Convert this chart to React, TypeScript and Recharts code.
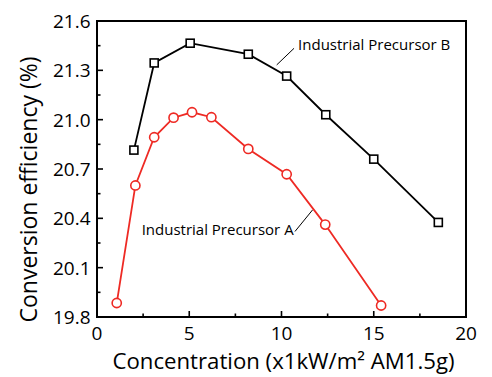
import React from 'react';
import { LineChart, Line, XAxis, YAxis, ReferenceLine, ReferenceDot, ReferenceArea } from 'recharts';

const xB = [2, 3.1, 5.05, 8.2, 10.28, 12.4, 15, 18.5];
const yB = [20.815, 21.345, 21.465, 21.398, 21.265, 21.03, 20.76, 20.375];
const xA = [1.07, 2.08, 3.1, 4.15, 5.15, 6.2, 8.2, 10.28, 12.37, 15.4];
const yA = [19.885, 20.6, 20.893, 21.012, 21.045, 21.015, 20.822, 20.668, 20.362, 19.87];

const xTicks = [0, 2.5, 5, 7.5, 10, 12.5, 15, 17.5, 20];
const xMajor = [0, 5, 10, 15, 20];
const xLabels = ['0', '5', '10', '15', '20'];
const yTicks = [19.8, 19.95, 20.1, 20.25, 20.4, 20.55, 20.7, 20.85, 21.0, 21.15, 21.3, 21.45, 21.6];
const yMajor = [19.8, 20.1, 20.4, 20.7, 21.0, 21.3, 21.6];
const yLabels = ['19.8', '20.1', '20.4', '20.7', '21.0', '21.3', '21.6'];

const seriesA = xA.map((x, i) => ({ x, y: yA[i] }));
const seriesB = xB.map((x, i) => ({ x, y: yB[i] }));

const FONT = '"Open Sans", "Noto Sans", sans-serif';
const RED = '#ee2a24';

const isIn = (arr: number[], v: number) => arr.findIndex((m) => Math.abs(m - v) < 1e-6);

const makeTick = (side: 'bottom' | 'top' | 'left' | 'right', majors: number[], labels: string[] | null) => (props: any) => {
  const { x, y, payload } = props;
  const v = payload.value;
  const idx = isIn(majors, v);
  const len = idx >= 0 ? 6 : 3.5;
  let line;
  if (side === 'bottom') line = <line x1={x} x2={x} y1={y} y2={y - len} stroke="#000" strokeWidth={1.6} />;
  else if (side === 'top') line = <line x1={x} x2={x} y1={y} y2={y + len} stroke="#000" strokeWidth={1.6} />;
  else if (side === 'left') line = <line x1={x} x2={x + len} y1={y} y2={y} stroke="#000" strokeWidth={1.6} />;
  else line = <line x1={x} x2={x - len} y1={y} y2={y} stroke="#000" strokeWidth={1.6} />;
  let label = null;
  if (labels && idx >= 0) {
    if (side === 'bottom')
      label = (
        <text x={x} y={y + 23} textAnchor="middle" fontSize={19} fontFamily={FONT} fill="#000">
          {labels[idx]}
        </text>
      );
    else if (side === 'left')
      label = (
        <text x={x - 6.5} y={y} dy="0.36em" textAnchor="end" fontSize={19} fontFamily={FONT} fill="#000">
          {labels[idx]}
        </text>
      );
  }
  return (
    <g>
      {line}
      {label}
    </g>
  );
};

const SquareDot = (props: any) => {
  const { cx, cy } = props;
  if (cx == null || cy == null) return null;
  return <rect x={cx - 4} y={cy - 4} width={8} height={8} fill="#fff" stroke="#000" strokeWidth={1.6} />;
};

const CircleDot = (props: any) => {
  const { cx, cy } = props;
  if (cx == null || cy == null) return null;
  return <circle cx={cx} cy={cy} r={4.6} fill="#fff" stroke={RED} strokeWidth={1.6} />;
};

const makeText = (txt: string) => (props: any) => {
  const vb = props.viewBox || {};
  return (
    <text x={vb.x} y={vb.y} textAnchor="start" fontSize={15} fontFamily={FONT} fill="#000">
      {txt}
    </text>
  );
};

const axisLine = { stroke: '#000', strokeWidth: 2 };

export default function App() {
  return (
    <LineChart width={484} height={369} margin={{ top: 13, right: 26, bottom: 0, left: 0 }}>
      <XAxis
        xAxisId="b"
        type="number"
        dataKey="x"
        domain={[0, 20]}
        ticks={xTicks}
        interval={0}
        tickSize={0}
        tickMargin={0}
        tickLine={false}
        axisLine={axisLine}
        height={60}
        tick={makeTick('bottom', xMajor, xLabels)}
        allowDataOverflow
        label={{
          content: (p: any) => {
            const vb = p.viewBox;
            return (
              <text x={vb.x + vb.width / 2 + 2} y={360.5} textAnchor="middle" fontSize={22.2} fontFamily={FONT} fill="#000">
                Concentration (x1kW/m² AM1.5g)
              </text>
            );
          },
        }}
      />
      <XAxis
        xAxisId="t"
        orientation="top"
        type="number"
        dataKey="x"
        domain={[0, 20]}
        ticks={xTicks}
        interval={0}
        tickSize={0}
        tickMargin={0}
        tickLine={false}
        axisLine={axisLine}
        height={0}
        tick={makeTick('top', xMajor, null)}
      />
      <YAxis
        yAxisId="l"
        type="number"
        domain={[19.8, 21.6]}
        ticks={yTicks}
        interval={0}
        tickSize={0}
        tickMargin={0}
        tickLine={false}
        axisLine={axisLine}
        width={89}
        tick={makeTick('left', yMajor, yLabels)}
        allowDataOverflow
        label={{
          content: () => (
            <text
              x={20}
              y={181.5}
              textAnchor="middle"
              dominantBaseline="central"
              transform="rotate(-90, 20, 181.5)"
              fontSize={23}
              fontFamily={FONT}
              fill="#000"
            >
              Conversion efficiency (%)
            </text>
          ),
        }}
      />
      <YAxis
        yAxisId="r"
        orientation="right"
        type="number"
        domain={[19.8, 21.6]}
        ticks={yTicks}
        interval={0}
        tickSize={0}
        tickMargin={0}
        tickLine={false}
        axisLine={axisLine}
        width={0}
        tick={makeTick('right', yMajor, null)}
      />
      <ReferenceArea
        xAxisId="b"
        yAxisId="l"
        x1={0}
        x2={20}
        y1={19.8}
        y2={21.6}
        fill="none"
        fillOpacity={0}
        stroke="#000"
        strokeWidth={2}
        strokeOpacity={1}
        ifOverflow="visible"
      />
      <ReferenceLine
        xAxisId="b"
        yAxisId="l"
        segment={[{ x: 9.74, y: 21.333 }, { x: 10.68, y: 21.434 }]}
        stroke="#000"
        strokeWidth={1}
      />
      <ReferenceLine
        xAxisId="b"
        yAxisId="l"
        segment={[{ x: 10.73, y: 20.32 }, { x: 11.69, y: 20.452 }]}
        stroke="#000"
        strokeWidth={1}
      />
      <ReferenceDot xAxisId="b" yAxisId="l" x={10.9} y={21.424} r={0} fill="none" stroke="none" label={{ content: makeText('Industrial Precursor B') }} />
      <ReferenceDot xAxisId="b" yAxisId="l" x={2.42} y={20.3} r={0} fill="none" stroke="none" label={{ content: makeText('Industrial Precursor A') }} />
      <Line
        xAxisId="b"
        yAxisId="l"
        data={seriesB}
        dataKey="y"
        stroke="#000"
        strokeWidth={1.8}
        dot={<SquareDot />}
        activeDot={false}
        isAnimationActive={false}
        type="linear"
      />
      <Line
        xAxisId="b"
        yAxisId="l"
        data={seriesA}
        dataKey="y"
        stroke={RED}
        strokeWidth={1.8}
        dot={<CircleDot />}
        activeDot={false}
        isAnimationActive={false}
        type="linear"
      />
    </LineChart>
  );
}
